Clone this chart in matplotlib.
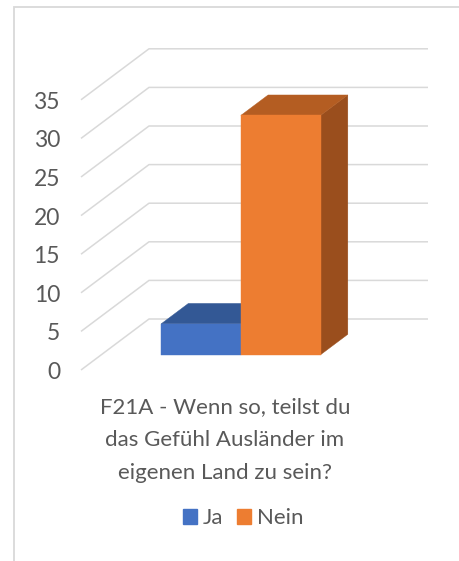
import matplotlib.pyplot as plt
from matplotlib.patches import Polygon, Rectangle, Patch

# data
series = ["Ja", "Nein"]
values = [4, 31]
y_ticks = [0, 5, 10, 15, 20, 25, 30, 35]
title = "F21A - Wenn so, teilst du\ndas Gefühl Ausländer im\neigenen Land zu sein?"

# colours (front, top, side)
front_cols = ["#4472C4", "#ED7D31"]
top_cols = ["#335895", "#B45D22"]
side_cols = ["#2E5088", "#9A4E1D"]
grid_col = "#D9D9D9"
text_col = "#595959"

W, H = 459, 561
plt.rcParams['font.family'] = ['Lato', 'DejaVu Sans']

fig = plt.figure(figsize=(W / 100, H / 100), dpi=100)
ax = fig.add_axes([0, 0, 1, 1])
ax.axis('off')

## pixel geometry of the oblique "3d" box
px_left, px_right, py_zero = 81, 360, 370
px_per_val = 7.72
depth_px_x, depth_px_y = 68, 51
cat_px = px_right - px_left

DX = depth_px_x / cat_px
DY = depth_px_y / px_per_val
ax.set_xlim(-px_left / cat_px, (W - px_left) / cat_px)
ax.set_ylim((py_zero - H) / px_per_val, py_zero / px_per_val)


def proj(x, v, d):
    # oblique projection: depth d in 0..1
    return (x + d * DX, v + d * DY)


## gridlines: diagonal on the side wall, horizontal on the back wall
for v in y_ticks:
    a = proj(0, v, 0)
    b = proj(0, v, 1)
    c = proj(1, v, 1)
    ax.plot([a[0], b[0], c[0]], [a[1], b[1], c[1]], color=grid_col, lw=1.1,
            zorder=1, solid_capstyle='butt')
    ## labels sit a few px below the line end
    ax.text(a[0] - 21 / cat_px, v - 2.5 / px_per_val, str(v), ha='right',
            va='center', fontsize=16.5, color=text_col)

## bars
gap = 1.5
w = 1 / (len(series) + gap)
left = gap * w / 2
d0, d1 = 0.3, 0.7
for i, val in enumerate(values):
    x0 = left + i * w
    x1 = x0 + w
    front = [proj(x0, 0, d0), proj(x1, 0, d0), proj(x1, val, d0), proj(x0, val, d0)]
    top = [proj(x0, val, d0), proj(x1, val, d0), proj(x1, val, d1), proj(x0, val, d1)]
    side = [proj(x1, 0, d0), proj(x1, 0, d1), proj(x1, val, d1), proj(x1, val, d0)]
    for pts, col in ((side, side_cols[i]), (top, top_cols[i]), (front, front_cols[i])):
        ax.add_patch(Polygon(pts, closed=True, facecolor=col, edgecolor=col,
                             lw=0.3, zorder=2 + i))

## title, one line at a time
for k, line in enumerate(title.split("\n")):
    fig.text(225 / W, 1 - (407 + 33 * k) / H, line, ha='center', va='center',
             fontsize=16, color=text_col)

## legend
handles = [Patch(facecolor=c, edgecolor=c) for c in front_cols]
fig.legend(handles, series, loc='center', bbox_to_anchor=(243 / W, 1 - 518 / H),
           ncol=2, frameon=False, fontsize=16, labelcolor=text_col,
           handlelength=0.65, handleheight=0.65, handletextpad=0.25,
           columnspacing=0.6)

## chart area border (cut off right and bottom)
fig.patches.append(Rectangle((14 / W, -0.1), 2, 1.1 - 7 / H, transform=fig.transFigure,
                             fill=False, edgecolor=grid_col, lw=1.3))

fig.savefig("out.png", dpi=100)
